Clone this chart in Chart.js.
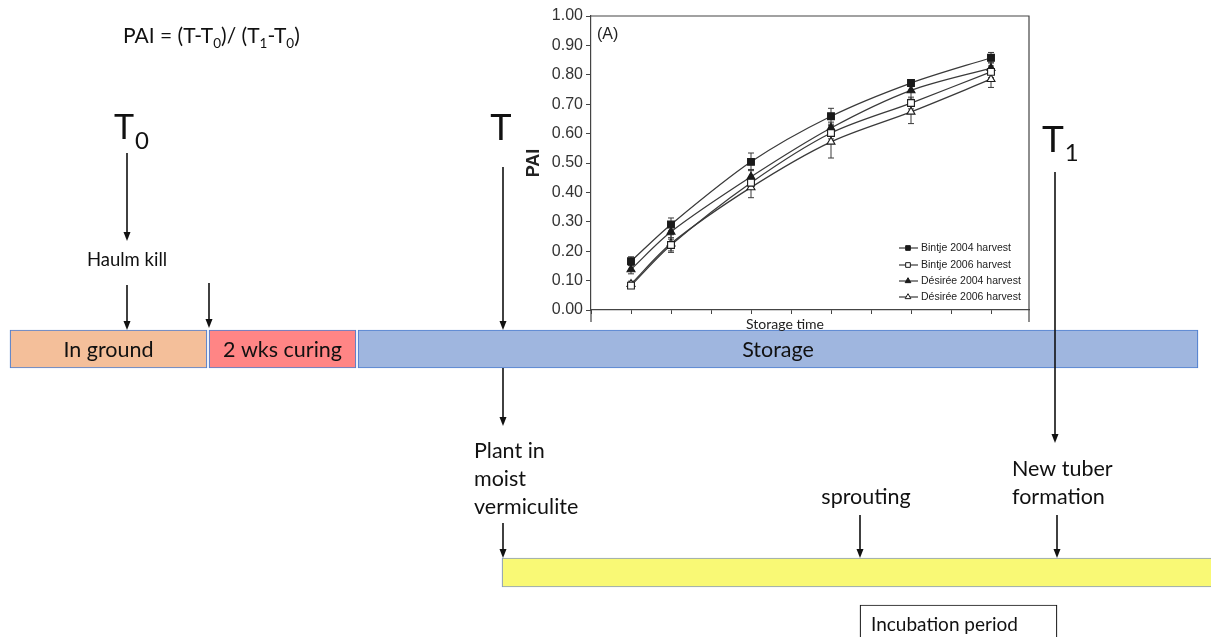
<!DOCTYPE html>
<html>
<head>
<meta charset="utf-8">
<script src="https://cdn.jsdelivr.net/npm/chart.js@4.4.1/dist/chart.umd.min.js"></script>
<style>
  html, body { margin: 0; padding: 0; background: #fff; }
  #wrap { position: relative; width: 1211px; height: 637px; overflow: hidden; }
  #timeline { position: absolute; left: 0; top: 0; }
  #pai { position: absolute; left: 517px; top: 0; }
</style>
</head>
<body>
<div id="wrap">
  <canvas id="timeline" width="1211" height="637"></canvas>
  <canvas id="pai" width="528" height="336"></canvas>
</div>
<script>
// ---- timeline (schematic time units) ----
const stageNames = ['In ground', '2 wks curing', 'Storage'];
const stageFrom = [10, 209, 358];
const stageTo = [207, 356, 1198];
const stageColors = ['#F4BF9A', '#FF8585', '#9FB6DF'];
const trialFrom = [502];
const trialTo = [1215];
const incubFrom = [860];
const incubTo = [1057];
const incubLabel = 'Incubation period';

// ---- inset: PAI vs storage time ----
const storageTime = [1, 2, 4, 6, 8, 10];
const seriesNames = ['Bintje 2004 harvest', 'Bintje 2006 harvest', 'Désirée 2004 harvest', 'Désirée 2006 harvest'];
const bintje2004 = [0.166, 0.291, 0.504, 0.659, 0.772, 0.858];
const bintje2006 = [0.083, 0.221, 0.433, 0.602, 0.704, 0.810];
const desiree2004 = [0.138, 0.266, 0.453, 0.619, 0.747, 0.823];
const desiree2006 = [0.088, 0.226, 0.417, 0.572, 0.674, 0.785];
const bintje2004Err = [0.015, 0.022, 0.030, 0.027, 0.012, 0.018];
const bintje2006Err = [0.010, 0.020, 0.020, 0.020, 0.020, 0.020];
const desiree2004Err = [0.015, 0.020, 0.025, 0.020, 0.030, 0.020];
const desiree2006Err = [0.010, 0.030, 0.035, 0.055, 0.040, 0.028];

const diagramFont = 'Lato, "Open Sans", sans-serif';
const inkColor = '#111';

function arrow(ctx, x, y1, y2) {
  ctx.save();
  ctx.strokeStyle = inkColor;
  ctx.fillStyle = inkColor;
  ctx.lineWidth = 1.6;
  ctx.beginPath();
  ctx.moveTo(x, y1);
  ctx.lineTo(x, y2 - 7);
  ctx.stroke();
  ctx.beginPath();
  ctx.moveTo(x - 3.5, y2 - 9);
  ctx.lineTo(x + 3.5, y2 - 9);
  ctx.lineTo(x, y2);
  ctx.closePath();
  ctx.fill();
  ctx.restore();
}

function txt(ctx, s, x, y, size, align) {
  ctx.font = size + 'px ' + diagramFont;
  ctx.textAlign = align || 'left';
  ctx.textBaseline = 'alphabetic';
  ctx.fillStyle = inkColor;
  ctx.fillText(s, x, y);
  return ctx.measureText(s).width;
}

// T with subscript
function tSub(ctx, x, y, size, sub, subSize, dy) {
  const w = txt(ctx, 'T', x, y, size);
  txt(ctx, sub, x + w + 1, y + dy, subSize);
}

const diagramPlugin = {
  id: 'diagram',
  afterDatasetsDraw(chart) {
    const ctx = chart.ctx;
    const x = v => chart.scales.x.getPixelForValue(v);
    const y = v => chart.scales.y.getPixelForValue(v);

    // bar labels
    ctx.save();
    const meta = chart.getDatasetMeta(0);
    meta.data.forEach((bar, i) => {
      ctx.font = '21.5px ' + diagramFont;
      ctx.textAlign = 'center';
      ctx.textBaseline = 'middle';
      ctx.fillStyle = inkColor;
      ctx.fillText(stageNames[i], bar.base + (bar.x - bar.base) / 2, bar.y + 1);
    });
    txt(ctx, incubLabel, x(incubFrom[0]) + 11, y(631), 19);

    // formula
    let cx = x(123);
    const fy = y(43);
    const part = (s, size, dy) => { cx += txt(ctx, s, cx, fy + dy, size); };
    part('PAI = (T-T', 21, 0); part('0', 13.5, 5); part(')/ (T', 21, 0);
    part('1', 13.5, 5); part('-T', 21, 0); part('0', 13.5, 5); part(')', 21, 0);

    // time markers
    tSub(ctx, x(114), y(139), 34, '0', 24, 10);
    txt(ctx, 'T', x(501), y(140), 36, 'center');
    tSub(ctx, x(1042), y(152), 37, '1', 24, 9);

    txt(ctx, 'Haulm kill', x(127), y(266), 18.5, 'center');
    ['Plant in', 'moist', 'vermiculite'].forEach((s, i) => txt(ctx, s, x(474), y(458 + i * 28), 21.5));
    txt(ctx, 'sprouting', x(866), y(504), 21.5, 'center');
    txt(ctx, 'New tuber', x(1012), y(476), 21.5);
    txt(ctx, 'formation', x(1012), y(504), 21.5);

    arrow(ctx, x(127), y(153), y(241));
    arrow(ctx, x(127), y(285), y(330));
    arrow(ctx, x(209), y(283), y(328));
    arrow(ctx, x(503), y(167), y(330));
    arrow(ctx, x(503), y(368), y(426));
    arrow(ctx, x(1055), y(172), y(443));
    arrow(ctx, x(503), y(523), y(558));
    arrow(ctx, x(860), y(515), y(558));
    arrow(ctx, x(1057), y(515), y(558));
    ctx.restore();
  }
};

new Chart(document.getElementById('timeline'), {
  type: 'bar',
  data: {
    datasets: [
      {
        data: stageNames.map((n, i) => ({ x: [stageFrom[i], stageTo[i]], y: 349 })),
        backgroundColor: stageColors,
        borderColor: '#4F7FD0',
        borderWidth: 1.2,
        borderSkipped: false,
        barThickness: 38
      },
      {
        data: trialFrom.map((v, i) => ({ x: [v, trialTo[i]], y: 572.5 })),
        backgroundColor: '#F9F975',
        borderColor: '#8A9CBC',
        borderWidth: 1.2,
        borderSkipped: false,
        barThickness: 29
      },
      {
        data: incubFrom.map((v, i) => ({ x: [v, incubTo[i]], y: 624 })),
        backgroundColor: '#ffffff',
        borderColor: '#111',
        borderWidth: 1.2,
        borderSkipped: false,
        barThickness: 38
      }
    ]
  },
  options: {
    indexAxis: 'y',
    responsive: false,
    animation: false,
    devicePixelRatio: 1,
    grouped: false,
    layout: { padding: 0 },
    plugins: { legend: { display: false }, tooltip: { enabled: false } },
    scales: {
      x: { type: 'linear', min: 0, max: 1211, display: false },
      y: { type: 'linear', min: 0, max: 637, reverse: true, offset: false, display: false }
    }
  },
  plugins: [diagramPlugin]
});

// ---- inset chart ----
const lineColor = '#3a3a3a';
const markerColor = '#1a1a1a';
const insetFont = '"Liberation Sans", Arial, sans-serif';
const errors = [bintje2004Err, bintje2006Err, desiree2004Err, desiree2006Err];

function series(label, values, style, filled) {
  return {
    label: label,
    data: storageTime.map((t, i) => ({ x: t, y: values[i] })),
    borderColor: lineColor,
    borderWidth: 1.3,
    tension: 0.3,
    pointStyle: style,
    pointRadius: style === 'rect' ? 4.8 : 4.6,
    pointBackgroundColor: filled ? markerColor : '#ffffff',
    pointBorderColor: markerColor,
    pointBorderWidth: 1.1
  };
}

const insetPlugin = {
  id: 'inset',
  beforeDatasetsDraw(chart) {
    const { ctx, chartArea: a, scales } = chart;
    ctx.save();
    ctx.strokeStyle = '#444';
    ctx.lineWidth = 1.2;
    ctx.beginPath();
    ctx.moveTo(a.left, a.top);
    ctx.lineTo(a.right, a.top);
    ctx.lineTo(a.right, a.bottom + 12);
    ctx.moveTo(a.left, a.bottom);
    ctx.lineTo(a.left, a.bottom + 12);
    ctx.stroke();
    // error bars
    ctx.strokeStyle = lineColor;
    ctx.lineWidth = 1;
    chart.data.datasets.forEach((ds, di) => {
      ds.data.forEach((p, i) => {
        const px = scales.x.getPixelForValue(p.x);
        const lo = scales.y.getPixelForValue(p.y - errors[di][i]);
        const hi = scales.y.getPixelForValue(p.y + errors[di][i]);
        ctx.beginPath();
        ctx.moveTo(px, lo); ctx.lineTo(px, hi);
        ctx.moveTo(px - 3, lo); ctx.lineTo(px + 3, lo);
        ctx.moveTo(px - 3, hi); ctx.lineTo(px + 3, hi);
        ctx.stroke();
      });
    });
    ctx.restore();
  },
  afterDraw(chart) {
    const { ctx } = chart;
    ctx.save();
    ctx.fillStyle = '#222';
    ctx.font = '16px ' + insetFont;
    ctx.textBaseline = 'middle';
    ctx.textAlign = 'left';
    ctx.fillText('(A)', 80, 35);
    ctx.font = '14px ' + diagramFont;
    ctx.textAlign = 'center';
    ctx.fillText('Storage time', 268, 324);
    // legend
    const rows = [248, 265, 281, 297];
    chart.data.datasets.forEach((ds, i) => {
      const ry = rows[i];
      ctx.strokeStyle = lineColor;
      ctx.lineWidth = 1.2;
      ctx.beginPath();
      ctx.moveTo(382, ry); ctx.lineTo(401, ry);
      ctx.stroke();
      ctx.fillStyle = ds.pointBackgroundColor;
      ctx.strokeStyle = markerColor;
      ctx.lineWidth = 1;
      Chart.helpers.drawPoint(ctx, {
        pointStyle: ds.pointStyle, radius: 3.3, borderWidth: 1
      }, 391, ry);
      ctx.font = '10.5px ' + insetFont;
      ctx.textAlign = 'left';
      ctx.fillStyle = '#222';
      ctx.fillText(ds.label, 404, ry + 0.5);
    });
    ctx.restore();
  }
};

new Chart(document.getElementById('pai'), {
  type: 'line',
  data: {
    datasets: [
      series(seriesNames[0], bintje2004, 'rect', true),
      series(seriesNames[1], bintje2006, 'rect', false),
      series(seriesNames[2], desiree2004, 'triangle', true),
      series(seriesNames[3], desiree2006, 'triangle', false)
    ]
  },
  options: {
    responsive: false,
    animation: false,
    devicePixelRatio: 1,
    layout: { padding: { top: 16, right: 16, left: 0, bottom: 0 } },
    plugins: { legend: { display: false }, tooltip: { enabled: false } },
    scales: {
      x: {
        type: 'linear', min: 0, max: 10.95,
        afterFit: s => { s.height = 26; },
        ticks: { stepSize: 1, display: false, includeBounds: false },
        grid: { drawOnChartArea: false, drawTicks: true, tickLength: 4, color: '#444' },
        border: { color: '#444', width: 1.2 }
      },
      y: {
        min: 0, max: 1,
        afterFit: s => { s.width = 74; },
        ticks: {
          stepSize: 0.1,
          color: '#333',
          font: { family: insetFont, size: 16 },
          padding: 3,
          callback: v => v.toFixed(2)
        },
        grid: { drawOnChartArea: false, tickLength: 5, color: '#444' },
        border: { color: '#444', width: 1.2 },
        title: {
          display: true, text: 'PAI', color: '#222',
          font: { family: insetFont, size: 18, weight: 'bold' },
          padding: { top: 6 }
        }
      }
    }
  },
  plugins: [insetPlugin]
});
</script>
</body>
</html>
